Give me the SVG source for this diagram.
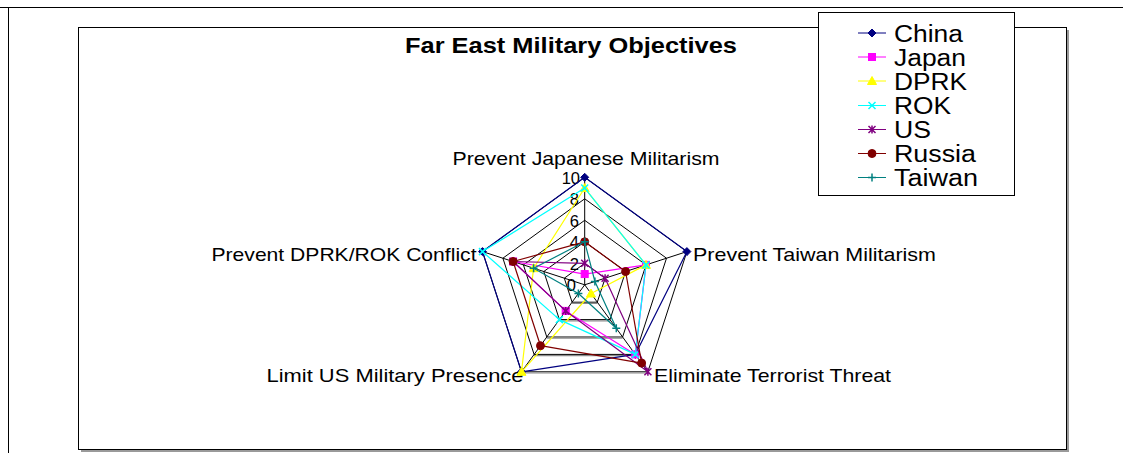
<svg xmlns="http://www.w3.org/2000/svg" xmlns:xlink="http://www.w3.org/1999/xlink" width="1123" height="453" viewBox="0 0 1123 453">
  <style>
    text { font-family: "Liberation Sans", Arial, sans-serif; fill: #000; }
    .title { font-size: 22px; font-weight: bold; }
    .cat { font-size: 19px; }
    .tick { font-size: 16.5px; }
    .leg { font-size: 23px; }
    .grid { fill: none; stroke: #000; stroke-width: 1; }
    .gridShade { stroke: #8c8c8c; stroke-width: 1.2; }
    .series { fill: none; stroke-width: 1.2; stroke-linejoin: round; }
  </style>
  <defs>
    <path id="mDiamond" d="M0,-4 L4,0 L0,4 L-4,0 Z"/>
    <rect id="mSquare" x="-3.5" y="-3.5" width="7" height="7"/>
    <path id="mTriangle" d="M0,-4.5 L4.5,3.5 L-4.5,3.5 Z"/>
    <path id="mX" d="M-3.5,-3.5 L3.5,3.5 M-3.5,3.5 L3.5,-3.5" fill="none" stroke-width="1.5"/>
    <path id="mStar" d="M-3.5,-3.5 L3.5,3.5 M-3.5,3.5 L3.5,-3.5 M0,-4 L0,4" fill="none" stroke-width="1.5"/>
    <circle id="mCircle" r="4"/>
    <path id="mPlus" d="M-4,0 L4,0 M0,-4 L0,4" fill="none" stroke-width="1.5"/>
  </defs>

  <!-- page rules and chart frame -->
  <g id="frame">
    <line x1="0" y1="7.5" x2="1123" y2="7.5" stroke="#000" stroke-width="1"/>
    <line x1="8.5" y1="7" x2="8.5" y2="453" stroke="#000" stroke-width="1"/>
    <path d="M1068,30 L1068,451 L81,451" fill="none" stroke="#9a9a9a" stroke-width="2"/>
    <rect x="78.5" y="27.5" width="988" height="422" fill="#fff" stroke="#000" stroke-width="1"/>
  </g>

  <text id="title" class="title" x="571" y="53" text-anchor="middle" textLength="332" lengthAdjust="spacingAndGlyphs">Far East Military Objectives</text>

  <!-- radar grid: rings at 2,4,6,8,10 and spokes -->
  <g id="grid">
    <polygon class="grid" points="584.7,263.3 605.1,278.2 597.3,302.2 572.1,302.2 564.3,278.2"/>
    <polygon class="grid" points="584.7,241.8 625.6,271.5 610.0,319.6 559.4,319.6 543.8,271.5"/>
    <polygon class="grid" points="584.7,220.3 646.0,264.9 622.6,337.0 546.8,337.0 523.4,264.9"/>
    <polygon class="grid" points="584.7,198.8 666.5,258.2 635.3,354.4 534.1,354.4 502.9,258.2"/>
    <polygon class="grid" points="584.7,177.3 686.9,251.6 647.9,371.8 521.5,371.8 482.5,251.6"/>
    <line class="gridShade" x1="572.1" y1="303.4" x2="597.3" y2="303.4"/>
    <line class="gridShade" x1="559.4" y1="320.8" x2="610.0" y2="320.8"/>
    <line class="gridShade" x1="546.8" y1="338.2" x2="622.6" y2="338.2"/>
    <line class="gridShade" x1="534.1" y1="355.6" x2="635.3" y2="355.6"/>
    <line class="gridShade" x1="521.5" y1="373.0" x2="647.9" y2="373.0"/>
    <path class="grid" d="M584.7,284.8 L584.7,177.3 M584.7,284.8 L686.9,251.6 M584.7,284.8 L647.9,371.8 M584.7,284.8 L521.5,371.8 M584.7,284.8 L482.5,251.6"/>
  </g>

  <g id="tickLabels" class="tick" text-anchor="end" dominant-baseline="central">
    <text x="576" y="285.3">0</text>
    <text x="579" y="263.8">2</text>
    <text x="579" y="242.3">4</text>
    <text x="579" y="220.8">6</text>
    <text x="579" y="199.3">8</text>
    <text x="580" y="177.8">10</text>
  </g>

  <g id="categoryLabels" class="cat">
    <text x="586" y="165" text-anchor="middle" textLength="267" lengthAdjust="spacingAndGlyphs">Prevent Japanese Militarism</text>
    <text x="693" y="261" textLength="243" lengthAdjust="spacingAndGlyphs">Prevent Taiwan Militarism</text>
    <text x="654" y="382" textLength="237" lengthAdjust="spacingAndGlyphs">Eliminate Terrorist Threat</text>
    <text x="266.5" y="382" textLength="257" lengthAdjust="spacingAndGlyphs">Limit US Military Presence</text>
    <text x="211.5" y="261" textLength="265" lengthAdjust="spacingAndGlyphs">Prevent DPRK/ROK Conflict</text>
  </g>

  <!-- data series -->
  <g id="series">
    <g id="china" stroke="#000080" fill="#000080">
      <polygon class="series" points="584.7,177.3 686.9,251.6 635.3,354.4 521.5,371.8 482.5,251.6"/>
      <use xlink:href="#mDiamond" x="584.7" y="177.3"/><use xlink:href="#mDiamond" x="686.9" y="251.6"/><use xlink:href="#mDiamond" x="635.3" y="354.4"/><use xlink:href="#mDiamond" x="521.5" y="371.8"/><use xlink:href="#mDiamond" x="482.5" y="251.6"/>
    </g>
    <g id="japan" stroke="#ff00ff" fill="#ff00ff">
      <polygon class="series" points="584.7,274.05 646.0,264.9 635.3,354.4 565.7,310.9 513.1,261.5"/>
      <use xlink:href="#mSquare" x="584.7" y="274.05"/><use xlink:href="#mSquare" x="646.0" y="264.9"/><use xlink:href="#mSquare" x="635.3" y="354.4"/><use xlink:href="#mSquare" x="565.7" y="310.9"/><use xlink:href="#mSquare" x="513.1" y="261.5"/>
    </g>
    <g id="dprk" stroke="#ffff00" fill="#ffff00">
      <polygon class="series" points="584.7,188.05 646.0,264.9 591.0,293.5 521.5,371.8 533.6,268.2"/>
      <use xlink:href="#mTriangle" x="584.7" y="188.05"/><use xlink:href="#mTriangle" x="646.0" y="264.9"/><use xlink:href="#mTriangle" x="591.0" y="293.5"/><use xlink:href="#mTriangle" x="521.5" y="371.8"/><use xlink:href="#mTriangle" x="533.6" y="268.2"/>
    </g>
    <g id="rok" stroke="#00ffff" fill="#00ffff">
      <polygon class="series" points="584.7,188.05 646.0,264.9 635.3,354.4 559.4,319.6 482.5,251.6"/>
      <use xlink:href="#mX" x="584.7" y="188.05"/><use xlink:href="#mX" x="646.0" y="264.9"/><use xlink:href="#mX" x="635.3" y="354.4"/><use xlink:href="#mX" x="559.4" y="319.6"/><use xlink:href="#mX" x="482.5" y="251.6"/>
    </g>
    <g id="us" stroke="#800080" fill="#800080">
      <polygon class="series" points="584.7,263.3 605.1,278.2 647.9,371.8 565.7,310.9 513.1,261.5"/>
      <use xlink:href="#mStar" x="584.7" y="263.3"/><use xlink:href="#mStar" x="605.1" y="278.2"/><use xlink:href="#mStar" x="647.9" y="371.8"/><use xlink:href="#mStar" x="565.7" y="310.9"/><use xlink:href="#mStar" x="513.1" y="261.5"/>
    </g>
    <g id="russia" stroke="#800000" fill="#800000">
      <polygon class="series" points="584.7,241.8 625.6,271.5 641.6,363.1 540.5,345.7 513.1,261.5"/>
      <use xlink:href="#mCircle" x="584.7" y="241.8"/><use xlink:href="#mCircle" x="625.6" y="271.5"/><use xlink:href="#mCircle" x="641.6" y="363.1"/><use xlink:href="#mCircle" x="540.5" y="345.7"/><use xlink:href="#mCircle" x="513.1" y="261.5"/>
    </g>
    <g id="taiwan" stroke="#008080" fill="#008080">
      <polygon class="series" points="584.7,241.8 594.9,281.5 616.3,328.3 578.4,293.5 533.6,268.2"/>
      <use xlink:href="#mPlus" x="584.7" y="241.8"/><use xlink:href="#mPlus" x="594.9" y="281.5"/><use xlink:href="#mPlus" x="616.3" y="328.3"/><use xlink:href="#mPlus" x="578.4" y="293.5"/><use xlink:href="#mPlus" x="533.6" y="268.2"/>
    </g>
  </g>

  <!-- legend -->
  <g id="legend">
    <rect x="818.5" y="12.5" width="196" height="183" fill="#fff" stroke="#000" stroke-width="1"/>
    <g stroke="#000080" fill="#000080"><line x1="858" y1="33" x2="886" y2="33"/><use xlink:href="#mDiamond" x="872" y="33"/></g>
    <g stroke="#ff00ff" fill="#ff00ff"><line x1="858" y1="57" x2="886" y2="57"/><use xlink:href="#mSquare" x="872" y="57"/></g>
    <g stroke="#ffff00" fill="#ffff00"><line x1="858" y1="81" x2="886" y2="81"/><use xlink:href="#mTriangle" x="872" y="81"/></g>
    <g stroke="#00ffff" fill="#00ffff"><line x1="858" y1="105.5" x2="886" y2="105.5"/><use xlink:href="#mX" x="872" y="105.5"/></g>
    <g stroke="#800080" fill="#800080"><line x1="858" y1="129.5" x2="886" y2="129.5"/><use xlink:href="#mStar" x="872" y="129.5"/></g>
    <g stroke="#800000" fill="#800000"><line x1="858" y1="153.5" x2="886" y2="153.5"/><use xlink:href="#mCircle" x="872" y="153.5"/></g>
    <g stroke="#008080" fill="#008080"><line x1="858" y1="177.5" x2="886" y2="177.5"/><use xlink:href="#mPlus" x="872" y="177.5"/></g>
    <text class="leg" x="894" y="41.5" textLength="69" lengthAdjust="spacingAndGlyphs">China</text>
    <text class="leg" x="894" y="65.5" textLength="72" lengthAdjust="spacingAndGlyphs">Japan</text>
    <text class="leg" x="894" y="89.5" textLength="73" lengthAdjust="spacingAndGlyphs">DPRK</text>
    <text class="leg" x="894" y="114" textLength="57" lengthAdjust="spacingAndGlyphs">ROK</text>
    <text class="leg" x="894" y="138" textLength="37" lengthAdjust="spacingAndGlyphs">US</text>
    <text class="leg" x="894" y="162" textLength="82" lengthAdjust="spacingAndGlyphs">Russia</text>
    <text class="leg" x="894" y="186" textLength="84" lengthAdjust="spacingAndGlyphs">Taiwan</text>
  </g>
</svg>
